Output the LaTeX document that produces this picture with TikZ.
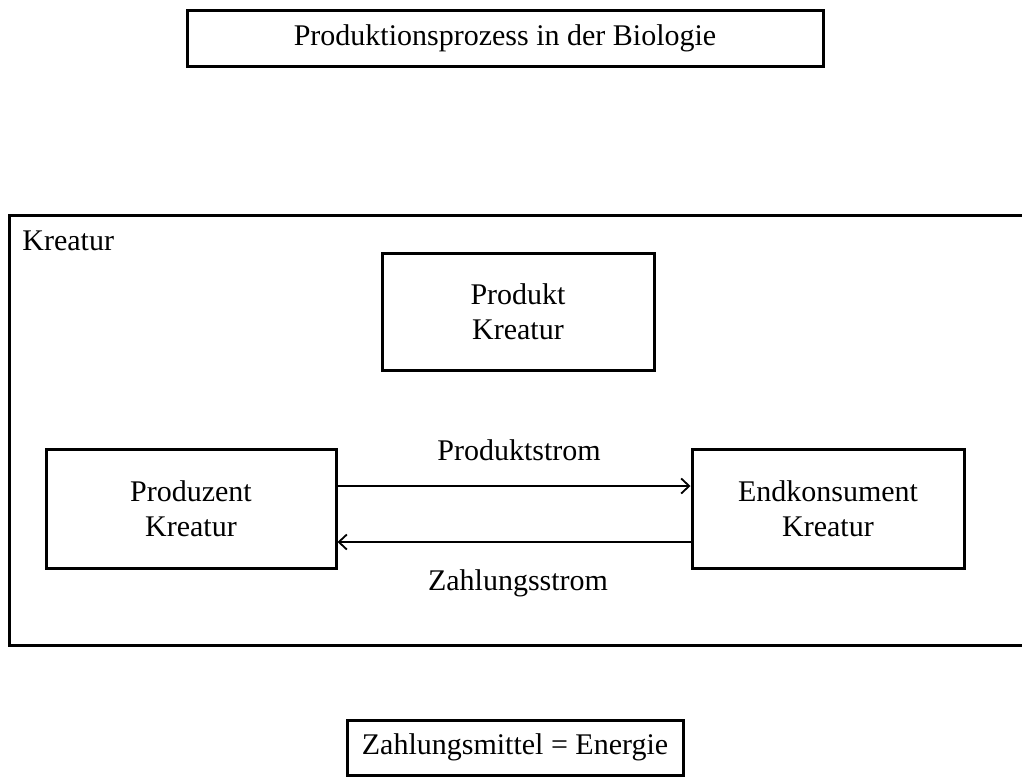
\documentclass[tikz,border=0pt]{standalone}
\usepackage{fontspec}
\setmainfont{Liberation Serif}
\usepackage{tikz}
\usetikzlibrary{positioning,calc,arrows.meta}

\tikzset{
  kasten/.style={draw,line width=1.5pt,align=center,inner sep=0pt},
  strom/.style={-{Straight Barb[length=4pt,width=7.5pt]},line width=0.9pt}
}

\begin{document}
\begin{tikzpicture}[x=0.5pt,y=-0.5pt,font=\fontsize{15}{17.5}\selectfont]
\useasboundingbox (0,0) rectangle (1022,782);
\node [kasten,minimum width=318pt,minimum height=28pt] (Titel) at (505,38) {Produktionsprozess in der Biologie};
\draw [line width=1.5pt] (1022,215) -- (9,215) -- (9,645) -- (1022,645);
\node [anchor=base west,inner sep=0pt] (Kreatur) at (22,250) {Kreatur};
\node [kasten,minimum width=136pt,minimum height=58.5pt] (Produkt) at (518,311.5) {Produkt\\Kreatur};
\node [kasten,minimum width=145pt,minimum height=59.5pt] (Produzent) at (191,508.5) {Produzent\\Kreatur};
\node [kasten,minimum width=136pt,minimum height=59.5pt] (Endkonsument) at (828,508.5) {Endkonsument\\Kreatur};
\node [kasten,minimum width=168pt,minimum height=27.5pt] (Zahlung) at (515,747.5) {Zahlungsmittel = Energie};
\draw [strom] ($(Produzent.east)+(0,-22.5)$) -- ($(Endkonsument.west)+(0,-22.5)$);
\draw [strom] ($(Endkonsument.west)+(0,33.5)$) -- ($(Produzent.east)+(0,33.5)$);
\node [anchor=base] (Pstrom) at (519,460) {Produktstrom};
\node [anchor=base] (Zstrom) at (518,590) {Zahlungsstrom};
\end{tikzpicture}
\end{document}
